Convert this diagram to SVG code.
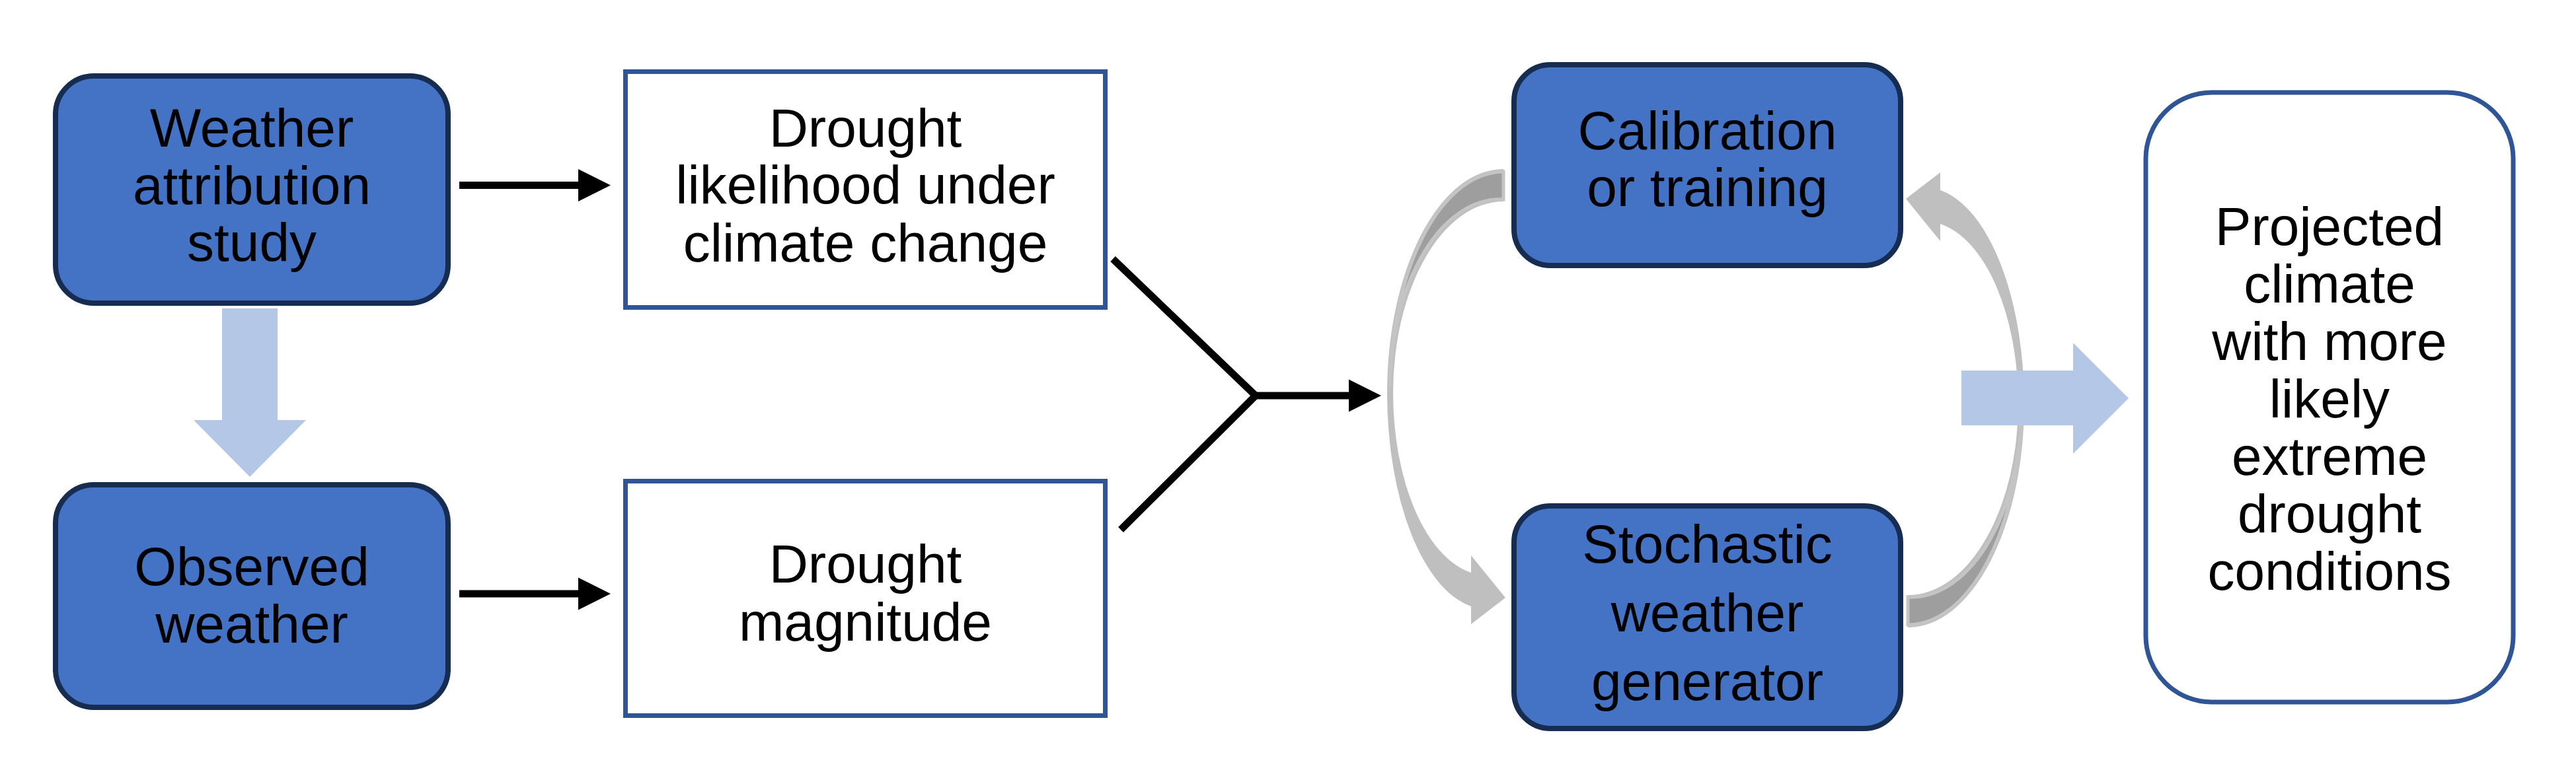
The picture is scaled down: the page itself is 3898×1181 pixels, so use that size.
<svg xmlns="http://www.w3.org/2000/svg" width="3898" height="1181" viewBox="0 0 3898 1181">
<defs>
<style>
.blue{fill:#4472C4;stroke:#172C51;stroke-width:8}
.white{fill:#FFFFFF;stroke:#2F5597;stroke-width:7}
.t{font-family:"Liberation Sans",Arial,sans-serif;font-size:82px;fill:#000000;text-anchor:middle}
.con{stroke:#000000;stroke-width:11;fill:none}
.bigarrow{fill:#B4C7E7}
.cfront{fill:#BFBFBF}
.cback{fill:#9E9E9E;stroke:#C4C4C4;stroke-width:5}
</style>
<marker id="head" markerUnits="userSpaceOnUse" markerWidth="50" markerHeight="50" refX="0" refY="24.5" orient="auto" overflow="visible">
<path d="M0,0 L49,24.5 L0,49 Z" fill="#000000"/>
</marker>
<g id="curvedArrow">
<path class="cfront" d="M 2275 256 A 176 339 0 0 0 2099 595 A 151 327 0 0 0 2226 918 L 2226 945 L 2278 905 L 2226 841 L 2226 867 A 142 276 0 0 1 2108 595 A 167 290 0 0 1 2275 305 Z"/>
<path class="cback" d="M 2275 260 A 172 335 0 0 0 2103 586 A 167 290 0 0 1 2275 302 Z"/>
</g>
</defs>
<rect width="3898" height="1181" fill="#FFFFFF"/>

<g id="connectors">
<line class="con" x1="695" y1="280.5" x2="875" y2="280.5" marker-end="url(#head)"/>
<line class="con" x1="695" y1="899" x2="875" y2="899" marker-end="url(#head)"/>
<polyline class="con" points="1684,392 1900,599 1696,802" stroke-linejoin="miter"/>
<line class="con" x1="1898" y1="599" x2="2041" y2="599" marker-end="url(#head)"/>
</g>

<g id="arrow-down">
<polygon class="bigarrow" points="336,467 420,467 420,636 463,636 378,722 293,636 336,636"/>
</g>

<g id="curved-arrow-left">
<use href="#curvedArrow"/>
</g>
<g id="curved-arrow-right">
<use href="#curvedArrow" transform="rotate(180 2581 603)"/>
</g>

<g id="arrow-right">
<polygon class="bigarrow" points="2968,561 3137,561 3137,519 3221,603 3137,687 3137,644 2968,644"/>
</g>

<g id="node-attribution">
<rect class="blue" x="84" y="115" width="594" height="344" rx="58" ry="58"/>
<text class="t" x="381" y="222">Weather</text>
<text class="t" x="381" y="309">attribution</text>
<text class="t" x="381" y="395">study</text>
</g>

<g id="node-observed">
<rect class="blue" x="84" y="734" width="594" height="337" rx="58" ry="58"/>
<text class="t" x="381" y="886">Observed</text>
<text class="t" x="381" y="973">weather</text>
</g>

<g id="node-likelihood">
<rect class="white" x="946.5" y="108.5" width="726" height="357"/>
<text class="t" x="1309.5" y="222">Drought</text>
<text class="t" x="1309.5" y="308">likelihood under</text>
<text class="t" x="1309.5" y="396">climate change</text>
</g>

<g id="node-magnitude">
<rect class="white" x="946.5" y="728.5" width="726" height="355"/>
<text class="t" x="1309.5" y="882">Drought</text>
<text class="t" x="1309.5" y="970">magnitude</text>
</g>

<g id="node-calibration">
<rect class="blue" x="2291" y="98" width="585" height="304" rx="55" ry="55"/>
<text class="t" x="2583.5" y="226">Calibration</text>
<text class="t" x="2583.5" y="312">or training</text>
</g>

<g id="node-generator">
<rect class="blue" x="2291" y="766" width="585" height="337" rx="55" ry="55"/>
<text class="t" x="2583.5" y="852">Stochastic</text>
<text class="t" x="2583.5" y="956">weather</text>
<text class="t" x="2583.5" y="1060">generator</text>
</g>

<g id="node-projected">
<rect class="white" x="3247" y="140" width="556" height="923" rx="100" ry="100"/>
<text class="t" x="3525" y="371">Projected</text>
<text class="t" x="3525" y="458">climate</text>
<text class="t" x="3525" y="545">with more</text>
<text class="t" x="3525" y="632">likely</text>
<text class="t" x="3525" y="719">extreme</text>
<text class="t" x="3525" y="806">drought</text>
<text class="t" x="3525" y="893">conditions</text>
</g>
</svg>
